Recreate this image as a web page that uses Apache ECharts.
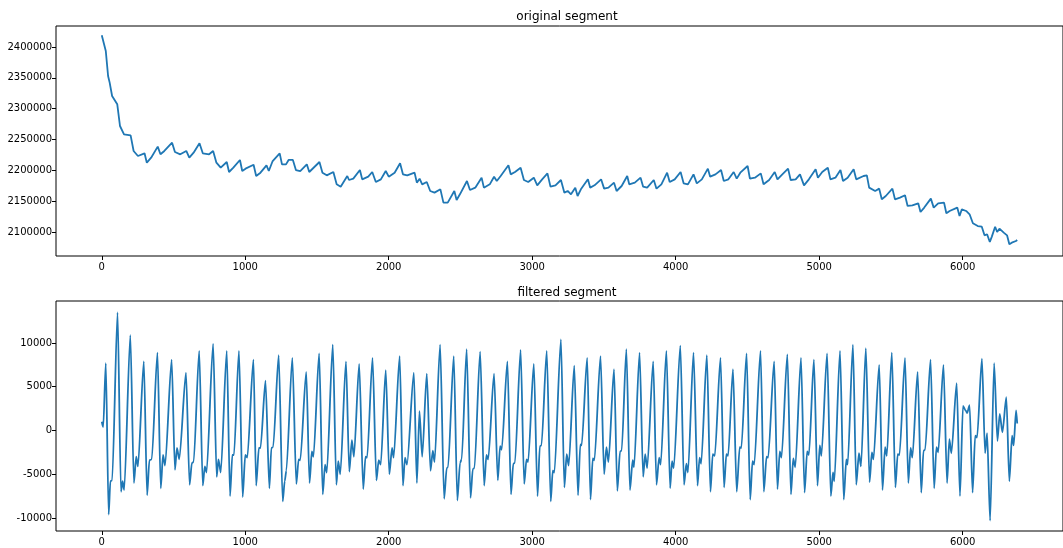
<!DOCTYPE html>
<html>
<head>
<meta charset="utf-8">
<script src="https://cdn.jsdelivr.net/npm/echarts@6/dist/echarts.min.js"></script>
<style>
html,body{margin:0;padding:0;background:#fff;}
#chart{width:1063px;height:548px;}
</style>
</head>
<body>
<div id="chart"></div>
<script>
// ---- data ----
const origX = [0,28,44,55,72,108,127,155,201,222,252,298,314,344,390,409,436,490,510,547,589,610,640,681,704,748,776,799,829,871,887,917,963,979,1002,1058,1076,1106,1148,1164,1191,1240,1256,1284,1302,1332,1353,1383,1429,1446,1517,1538,1568,1614,1637,1665,1711,1723,1753,1799,1815,1857,1885,1910,1945,1979,2000,2041,2079,2099,2129,2180,2196,2215,2233,2265,2289,2319,2360,2381,2411,2457,2473,2496,2545,2566,2603,2647,2663,2704,2734,2753,2780,2834,2850,2880,2919,2942,2972,3011,3035,3069,3106,3127,3162,3200,3224,3247,3270,3300,3316,3339,3388,3404,3434,3480,3501,3531,3570,3588,3623,3662,3676,3715,3755,3773,3801,3847,3866,3900,3940,3958,3993,4034,4055,4085,4124,4147,4182,4224,4240,4277,4316,4335,4367,4404,4425,4450,4501,4517,4552,4593,4612,4651,4690,4709,4743,4783,4801,4836,4866,4894,4928,4975,4991,5021,5060,5078,5113,5148,5166,5198,5240,5258,5309,5332,5348,5390,5418,5436,5464,5510,5528,5563,5598,5616,5649,5690,5706,5732,5778,5798,5829,5870,5886,5909,5962,5978,5994,6024,6048,6071,6105,6133,6152,6170,6189,6203,6226,6240,6256,6286,6309,6325,6342,6355,6371,6380];
const origY = [2418900,2393500,2353000,2342200,2320500,2307000,2271900,2258400,2256800,2231400,2223200,2227600,2212400,2220500,2238400,2226000,2231400,2244900,2229700,2226000,2231400,2220500,2228600,2243800,2227600,2226000,2231400,2212400,2204300,2213500,2197300,2204300,2216800,2198900,2202700,2209000,2190800,2196200,2208100,2198900,2215100,2227600,2209700,2209700,2216800,2216800,2200500,2198900,2209700,2197300,2213500,2196200,2191900,2197300,2177300,2173500,2190800,2184300,2186500,2200500,2185400,2189700,2197300,2181100,2185400,2198900,2189700,2196200,2211400,2193500,2191900,2196200,2180000,2186500,2177300,2181100,2166500,2163800,2169200,2147600,2147600,2166500,2151900,2161100,2182700,2168100,2171900,2188100,2171900,2177300,2189700,2182700,2190800,2208100,2193500,2197300,2204300,2184300,2181100,2188100,2175700,2185400,2195100,2173500,2175700,2184300,2163800,2166500,2161100,2171900,2158400,2169200,2185400,2171900,2175700,2185400,2170300,2171900,2180000,2166500,2174600,2190800,2177300,2180000,2188100,2173500,2171900,2184300,2170300,2177300,2196200,2181100,2185400,2197300,2178900,2177300,2193500,2178900,2185400,2202700,2189700,2193500,2200500,2182700,2185400,2197300,2186500,2196200,2207000,2186500,2188100,2195100,2177300,2184300,2197300,2185400,2193500,2202700,2184300,2185400,2193500,2175700,2185400,2201600,2188100,2197300,2204300,2185400,2188100,2200500,2182700,2188100,2201600,2185400,2190800,2191900,2171900,2166500,2170300,2153000,2158400,2170300,2153000,2155700,2159500,2142200,2143300,2146500,2132400,2139600,2154100,2139500,2146500,2147600,2130300,2134100,2139600,2126000,2136800,2134100,2128700,2114100,2109700,2108600,2094600,2096400,2083800,2092500,2108600,2100000,2105400,2099000,2094600,2080000,2082700,2080000,2085400,2087100];

const filtX = [0,10,28,48,60,72,110,134,145,156,199,224,240,252,293,316,332,348,388,411,427,441,487,510,524,540,587,612,628,640,679,704,718,730,776,801,813,829,871,894,910,921,956,982,1000,1014,1057,1076,1095,1106,1141,1168,1182,1194,1233,1261,1275,1286,1328,1356,1372,1383,1425,1448,1464,1475,1515,1540,1556,1568,1610,1635,1648,1662,1702,1725,1743,1757,1794,1822,1838,1849,1887,1914,1930,1944,1979,2004,2023,2034,2076,2099,2113,2127,2175,2196,2214,2233,2265,2291,2307,2319,2358,2386,2404,2413,2453,2478,2497,2508,2543,2570,2586,2597,2637,2665,2681,2693,2734,2760,2776,2787,2827,2852,2868,2879,2919,2944,2960,2971,3011,3037,3053,3064,3101,3129,3143,3154,3200,3224,3240,3254,3293,3319,3335,3344,3383,3406,3422,3433,3476,3501,3517,3531,3570,3593,3612,3623,3656,3681,3700,3709,3748,3773,3787,3801,3843,3866,3884,3895,3935,3961,3974,3986,4032,4058,4074,4085,4124,4152,4166,4177,4217,4242,4258,4272,4312,4337,4353,4365,4399,4425,4446,4457,4494,4519,4535,4547,4591,4614,4633,4644,4686,4709,4725,4737,4778,4803,4819,4833,4873,4898,4916,4928,4963,4988,5004,5015,5055,5081,5096,5105,5145,5171,5189,5198,5235,5258,5277,5291,5325,5351,5367,5378,5418,5441,5459,5471,5506,5531,5547,5559,5598,5621,5637,5649,5686,5711,5727,5738,5776,5801,5817,5829,5866,5891,5907,5921,5958,5981,6002,6020,6031,6048,6069,6087,6100,6134,6156,6170,6191,6219,6242,6258,6277,6304,6325,6344,6355,6372,6380];
const filtY = [1000,400,7700,-9600,-5800,-5700,13500,-7000,-5800,-6800,10900,-6000,-3000,-4100,7900,-7400,-3400,-3300,8900,-6600,-2800,-4000,8100,-4500,-2000,-3300,6600,-6200,-3700,-3600,9100,-6300,-4100,-4800,9900,-5300,-3300,-4800,9100,-7500,-2800,-2800,9100,-7600,-2800,-3100,8100,-6300,-2000,-2000,5700,-6600,-2000,-1900,8600,-8100,-5800,-4600,8300,-6100,-3300,-3400,6700,-6000,-2400,-3000,8800,-7300,-3900,-4800,9800,-6200,-3500,-5000,7900,-4700,-1100,-3000,7600,-6700,-3000,-3100,8300,-5700,-3400,-3900,6900,-5000,-2000,-3100,8500,-6300,-3100,-3900,6600,-6000,2200,-3000,6500,-4600,-2300,-3600,9800,-7800,-4300,-4200,8500,-8000,-3700,-3300,9300,-7700,-4400,-4300,9000,-6300,-2800,-3300,6500,-5700,-1800,-2200,7900,-7300,-3800,-3700,9200,-6100,-3300,-3600,7600,-7500,-1800,-1700,9100,-8100,-4600,-4800,10400,-6500,-2700,-4000,7400,-7400,-1600,-1700,8300,-7900,-3200,-3400,8500,-5000,-1900,-3600,7000,-6900,-2400,-2300,9300,-6800,-3400,-4200,8900,-5300,-2700,-4300,7900,-6200,-3100,-3900,9100,-6600,-3500,-4300,9700,-6200,-3800,-4800,8900,-6300,-3100,-3800,8600,-7000,-2700,-2900,8300,-6500,-2700,-2900,7000,-7000,-1900,-2000,8800,-7900,-3500,-3900,9100,-7000,-3000,-3100,7900,-6700,-2400,-3100,8700,-7300,-3200,-4200,8300,-7100,-2400,-2800,8100,-6300,-1700,-2900,8800,-7500,-4800,-5800,9100,-7900,-3300,-3900,9800,-6200,-2600,-4100,9400,-5900,-2500,-3300,7500,-6800,-1900,-2900,8900,-6500,-2700,-2800,8300,-6000,-2000,-3100,6700,-7100,-2300,-2200,8100,-6600,-1900,-2500,7500,-6000,-1000,-2600,5400,-7500,2800,2300,2000,2900,-7100,-600,-800,8200,-2600,-300,-10300,7700,-1200,1900,-200,3800,-5800,-600,-1700,2300,800];

const xTicks = [0,1000,2000,3000,4000,5000,6000];
const topTicks = [2100000,2150000,2200000,2250000,2300000,2350000,2400000];
const botTicks = [-10000,-5000,0,5000,10000];

const zip = (a, b) => a.map((v, i) => [v, b[i]]);

const FONT = 'DejaVu Sans';
function xAxisCfg(idx){
  return {
    type:'value', gridIndex:idx, min:-319, max:6699, position:'bottom',
    axisLine:{show:false, onZero:false},
    splitLine:{show:false},
    axisTick:{show:true, length:4, lineStyle:{color:'#000', width:1}, customValues:xTicks},
    axisLabel:{color:'#000', fontFamily:FONT, fontSize:10, margin:6, customValues:xTicks, formatter:v=>String(v)}
  };
}
function yAxisCfg(idx, min, max, ticks){
  return {
    type:'value', gridIndex:idx, min:min, max:max, position:'left',
    axisLine:{show:false, onZero:false},
    splitLine:{show:false},
    axisTick:{show:true, length:4, lineStyle:{color:'#000', width:1}, customValues:ticks},
    axisLabel:{color:'#000', fontFamily:FONT, fontSize:10, margin:4, customValues:ticks, formatter:v=>String(v)}
  };
}

const chart = echarts.init(document.getElementById('chart'), null, {renderer:'canvas'});
chart.setOption({
  animation:false,
  backgroundColor:'#fff',
  title:[
    {text:'original segment', left:562, top:6, textAlign:'center',
     textStyle:{fontFamily:FONT, fontSize:12, fontWeight:'normal', color:'#000'}},
    {text:'filtered segment', left:562, top:282, textAlign:'center',
     textStyle:{fontFamily:FONT, fontSize:12, fontWeight:'normal', color:'#000'}}
  ],
  grid:[
    {left:56, top:26, width:1013, height:230, show:true, borderColor:'#000', borderWidth:1, backgroundColor:'transparent'},
    {left:56, top:301, width:1013, height:230, show:true, borderColor:'#000', borderWidth:1, backgroundColor:'transparent'}
  ],
  xAxis:[xAxisCfg(0), xAxisCfg(1)],
  yAxis:[yAxisCfg(0, 2061080, 2434050, topTicks), yAxisCfg(1, -11486, 14800, botTicks)],
  series:[
    {type:'line', xAxisIndex:0, yAxisIndex:0, data:zip(origX, origY), showSymbol:false, symbol:'none',
     lineStyle:{color:'#1f77b4', width:1.8}, itemStyle:{color:'#1f77b4'}},
    {type:'line', xAxisIndex:1, yAxisIndex:1, data:zip(filtX, filtY), showSymbol:false, symbol:'none',
     smooth:0.25, smoothMonotone:'x',
     lineStyle:{color:'#1f77b4', width:1.8}, itemStyle:{color:'#1f77b4'}}
  ]
});
</script>
</body>
</html>
